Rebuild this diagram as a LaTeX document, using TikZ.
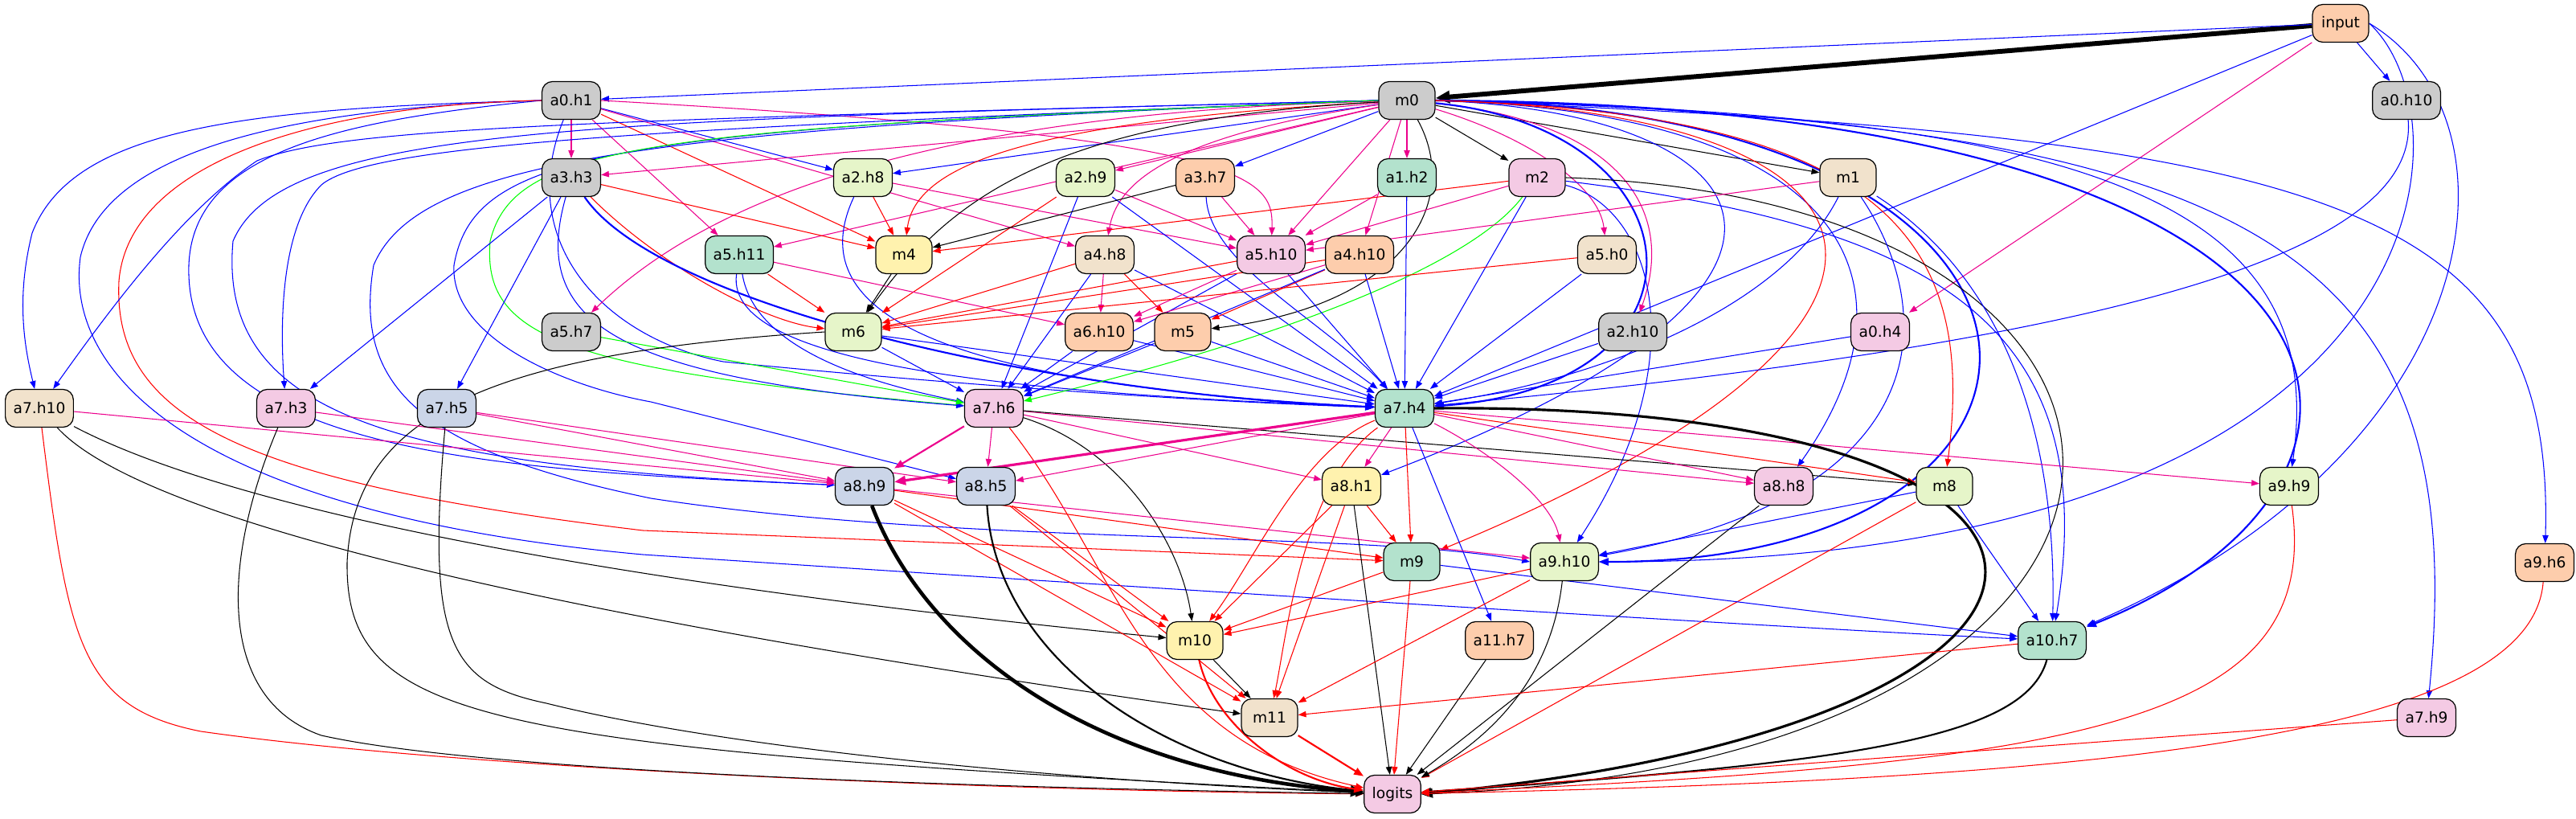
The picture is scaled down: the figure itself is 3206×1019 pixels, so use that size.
\documentclass[tikz,border=0pt]{standalone}
\usepackage{fontspec}
\setmainfont{DejaVu Sans}
\usepackage{tikz}
\usetikzlibrary{arrows.meta}
\definecolor{ngray}{HTML}{CCCCCC}
\definecolor{nmint}{HTML}{B3E2CD}
\definecolor{npeach}{HTML}{FDCDAC}
\definecolor{nblue}{HTML}{CBD5E8}
\definecolor{npink}{HTML}{F4CAE4}
\definecolor{nlime}{HTML}{E6F5C9}
\definecolor{nyellow}{HTML}{FFF2AE}
\definecolor{nbeige}{HTML}{F1E2CC}
\pgfdeclarelayer{edges}
\pgfsetlayers{edges,main}
\tikzset{
  nd/.style={draw, line width=0.35pt, rounded corners=0.13cm, minimum width=0.7cm, minimum height=0.47cm, inner xsep=0.1cm, inner ysep=0pt, font=\fontsize{5.3}{6.4}\selectfont},
  ed/.style={->, line width=0.3pt},
  eb/.style={ed, blue},
  er/.style={ed, red},
  em/.style={ed, magenta},
  eg/.style={ed, green},
  ek/.style={ed, black},
  w2/.style={line width=0.6pt, -{Triangle[length=3.4pt,width=2.6pt]}},
  w3/.style={line width=0.9pt, -{Triangle[length=4pt,width=3.2pt]}},
  w4/.style={line width=1.3pt, -{Triangle[length=4.6pt,width=3.8pt]}},
  w5/.style={line width=1.7pt, -{Triangle[length=5pt,width=4.2pt]}},
}
\begin{document}
\begin{tikzpicture}[x=0.01cm, y=-0.01cm, >={Triangle[length=2.8pt,width=2.1pt]}]
\useasboundingbox (0,0) rectangle (3206,1019);

\node(input)  [nd, fill=npeach]  at (2913,29)  {input};
\node(m0)     [nd, fill=ngray]   at (1751,125) {m0};
\node(a0h1)   [nd, fill=ngray]   at (711,125)  {a0.h1};
\node(a0h10)  [nd, fill=ngray]   at (2995,125) {a0.h10};

\node(a3h3)   [nd, fill=ngray]   at (711,221)  {a3.h3};
\node(a2h8)   [nd, fill=nlime]   at (1074,221) {a2.h8};
\node(a2h9)   [nd, fill=nlime]   at (1351,221) {a2.h9};
\node(a3h7)   [nd, fill=npeach]  at (1500,221) {a3.h7};
\node(a1h2)   [nd, fill=nmint]   at (1751,221) {a1.h2};
\node(m2)     [nd, fill=npink]   at (1913,221) {m2};
\node(m1)     [nd, fill=nbeige]  at (2300,221) {m1};

\node(a5h11)  [nd, fill=nmint]   at (920,317)  {a5.h11};
\node(m4)     [nd, fill=nyellow] at (1125,317) {m4};
\node(a4h8)   [nd, fill=nbeige]  at (1375,317) {a4.h8};
\node(a5h10)  [nd, fill=npink]   at (1582,317) {a5.h10};
\node(a4h10)  [nd, fill=npeach]  at (1692,317) {a4.h10};
\node(a5h0)   [nd, fill=nbeige]  at (2000,317) {a5.h0};

\node(a5h7)   [nd, fill=ngray]   at (711,413)  {a5.h7};
\node(m6)     [nd, fill=nlime]   at (1062,413) {m6};
\node(a6h10)  [nd, fill=npeach]  at (1368,413) {a6.h10};
\node(m5)     [nd, fill=npeach]  at (1472,413) {m5};
\node(a2h10)  [nd, fill=ngray]   at (2032,413) {a2.h10};
\node(a0h4)   [nd, fill=npink]   at (2340,413) {a0.h4};

\node(a7h10)  [nd, fill=nbeige]  at (49,508)   {a7.h10};
\node(a7h3)   [nd, fill=npink]   at (356,508)  {a7.h3};
\node(a7h5)   [nd, fill=nblue]   at (556,508)  {a7.h5};
\node(a7h6)   [nd, fill=npink]   at (1237,508) {a7.h6};
\node(a7h4)   [nd, fill=nmint]   at (1748,508) {a7.h4};

\node(a8h9)   [nd, fill=nblue]   at (1076,605) {a8.h9};
\node(a8h5)   [nd, fill=nblue]   at (1227,605) {a8.h5};
\node(a8h1)   [nd, fill=nyellow] at (1682,605) {a8.h1};
\node(a8h8)   [nd, fill=npink]   at (2220,605) {a8.h8};
\node(m8)     [nd, fill=nlime]   at (2420,605) {m8};
\node(a9h9)   [nd, fill=nlime]   at (2849,605) {a9.h9};

\node(m9)     [nd, fill=nmint]   at (1757,699) {m9};
\node(a9h10)  [nd, fill=nlime]   at (1947,699) {a9.h10};
\node(a9h6)   [nd, fill=npeach]  at (3167,700) {a9.h6};

\node(m10)    [nd, fill=nyellow] at (1487,797) {m10};
\node(a11h7)  [nd, fill=npeach]  at (1866,797) {a11.h7};
\node(a10h7)  [nd, fill=nmint]   at (2554,797) {a10.h7};

\node(m11)    [nd, fill=nbeige]  at (1580,893) {m11};
\node(a7h9)   [nd, fill=npink]   at (3020,893) {a7.h9};
\node(logits) [nd, fill=npink]   at (1733,988) {logits};

\begin{pgfonlayer}{edges}
% input
\draw[ek, w5] (input) -- (m0);
\draw[eb] (input) -- (a0h1);
\draw[eb] (input) -- (a0h10);
\draw[em] (input) -- (a0h4);
\draw[eb] (input) -- (a7h4);
\draw[eb] (input.east) .. controls (3080,150) and (3050,700) .. (a9h10.east);
\draw[eb] (input.east) .. controls (3150,150) and (3100,560) .. (a10h7);

% a0.h1
\draw[em] (a0h1) -- (a3h3);
\draw[eb] (a0h1) -- (a2h8);
\draw[em] (a0h1) -- (a5h11);
\draw[er] (a0h1) -- (m4);
\draw[em] (a0h1) -- (a4h8);
\draw[em] (a0h1.east) .. controls (1560,170) and (1585,220) .. (a5h10);
\draw[eb] (a0h1.west) .. controls (300,135) and (90,160) .. (40,290) .. controls (20,370) and (30,430) .. (a7h10);
\draw[eb] (a0h1.west) .. controls (420,150) and (240,190) .. (235,330) .. controls (228,560) and (600,585) .. (a8h9);
\draw[eb] (a0h1.west) .. controls (350,135) and (130,190) .. (100,320) .. controls (80,470) and (250,640) .. (800,690) .. controls (1400,730) and (2200,780) .. (a10h7);
\draw[er] (a0h1.west) .. controls (400,130) and (160,200) .. (148,350) .. controls (140,520) and (300,600) .. (800,660) -- (m9);
\draw[eb] (a0h1) .. controls (640,300) and (750,420) .. (900,450) .. controls (1200,480) and (1500,500) .. (a7h4);

% m0
\draw[em] (m0) -- (a3h3);
\draw[eb] (m0) -- (a2h8);
\draw[em] (m0) -- (a2h9);
\draw[eb] (m0) -- (a3h7);
\draw[em] (m0) -- (a1h2);
\draw[ek] (m0) -- (m2);
\draw[ek] (m0) -- (m1);
\draw[em] (m0) -- (a5h11);
\draw[er] (m0) .. controls (1300,150) and (1140,200) .. (m4);
\draw[em] (m0) .. controls (1450,170) and (1390,230) .. (a4h8);
\draw[em] (m0) -- (a5h10);
\draw[em] (m0) -- (a4h10);
\draw[em] (m0) .. controls (1900,170) and (1990,230) .. (a5h0);
\draw[em] (m0) .. controls (1200,140) and (900,230) .. (a5h7);
\draw[ek] (m0) .. controls (1300,150) and (1180,250) .. (m6);
\draw[ek] (m0) .. controls (1820,250) and (1750,380) .. (m5);
\draw[em] (m0) .. controls (2000,150) and (2090,250) .. (a2h10);
\draw[eb] (m0.west) .. controls (700,150) and (420,160) .. (320,200) .. controls (230,260) and (140,380) .. (a7h10);
\draw[eb] (m0.west) .. controls (800,160) and (460,180) .. (400,230) .. controls (350,280) and (348,400) .. (a7h3);
\draw[eb] (m0.west) .. controls (700,150) and (350,160) .. (290,300) .. controls (270,520) and (500,580) .. (a8h9);
\draw[eb] (m0.west) .. controls (800,160) and (520,200) .. (465,330) .. controls (440,480) and (520,560) .. (810,620) .. controls (1200,680) and (1700,660) .. (a9h10.west);
\draw[eb] (m0.west) .. controls (750,160) and (590,190) .. (565,330) .. controls (560,420) and (700,480) .. (810,500) -- (a8h5);
\draw[eg] (m0.west) .. controls (800,160) and (640,180) .. (610,300) .. controls (600,420) and (700,460) .. (a7h6);
\draw[eb, w2] (m0) .. controls (2120,160) and (2150,480) .. (a7h4);
\draw[eb, w2] (m0.east) .. controls (2650,130) and (2650,700) .. (a9h10.east);
\draw[eb, w2] (m0.east) .. controls (3000,130) and (3050,600) .. (a10h7);
\draw[eb] (m0.east) .. controls (2600,140) and (2900,250) .. (a9h9);
\draw[eb] (m0.east) .. controls (2800,150) and (3080,300) .. (a7h9);
\draw[eb] (m0.east) .. controls (2900,170) and (3180,250) .. (a9h6);
\draw[eb] (m0.east) .. controls (2300,140) and (2400,350) .. (a8h8);
\draw[eb] (m0.east) .. controls (2200,140) and (2350,350) .. (a8h1);
\draw[er] (m0.east) .. controls (2350,140) and (2460,300) .. (m8);
\draw[er] (m0.east) .. controls (2380,140) and (2480,400) .. (m9);

% second row
\draw[eb] (a0h10) .. controls (3010,300) and (2700,420) .. (a7h4);
\draw[er] (a3h3) -- (m4);
\draw[er] (a3h3) .. controls (820,330) and (950,400) .. (m6);
\draw[eb] (a3h3) -- (a7h3);
\draw[eb] (a3h3) -- (a7h5);
\draw[eb, w2] (a3h3) .. controls (820,380) and (1300,490) .. (a7h4);
\draw[eb] (a3h3) .. controls (660,400) and (760,470) .. (a7h6);
\draw[er] (a2h8) -- (m4);
\draw[em] (a2h8) -- (a5h10);
\draw[eb] (a2h8) .. controls (990,400) and (1200,480) .. (a7h4);
\draw[em] (a2h9) -- (a5h10);
\draw[er] (a2h9) -- (m6);
\draw[eb] (a2h9) -- (a7h6);
\draw[eb] (a2h9) -- (a7h4);
\draw[ek] (a3h7) -- (m4);
\draw[em] (a3h7) -- (a5h10);
\draw[eb] (a3h7) .. controls (1505,330) and (1650,400) .. (a7h4);
\draw[em] (a1h2) -- (a5h10);
\draw[eb] (a1h2) -- (a7h4);
\draw[er] (m2) -- (m4);
\draw[em] (m2) -- (a5h10);
\draw[eg] (m2) .. controls (1830,330) and (1600,420) .. (a7h6);
\draw[eb] (m2) -- (a7h4);
\draw[eb] (m2) .. controls (2060,260) and (2110,450) .. (a9h10);
\draw[eb] (m2) .. controls (2400,280) and (2620,400) .. (a10h7);
\draw[ek] (m2.east) .. controls (2800,250) and (2800,950) .. (logits.east);
\draw[em] (m1) -- (a5h10);
\draw[eb] (m1) .. controls (2220,380) and (2000,470) .. (a7h4);
\draw[eb] (m1) .. controls (2420,400) and (2400,620) .. (a9h10);
\draw[eb] (m1) .. controls (2500,350) and (2560,550) .. (a10h7);

% third and fourth rows
\draw[er] (a5h11) -- (m6);
\draw[em] (a5h11) -- (a6h10);
\draw[eb] (a5h11) .. controls (940,440) and (1100,480) .. (a7h6);
\draw[eb] (a5h11) .. controls (900,460) and (1300,490) .. (a7h4);
\draw[ek] (m4) -- (m6);
\draw[er] (a4h8) -- (m6);
\draw[em] (a4h8) -- (a6h10);
\draw[er] (a4h8) -- (m5);
\draw[eb] (a4h8) -- (a7h6);
\draw[eb] (a4h8) -- (a7h4);
\draw[er] (a5h10) -- (m6);
\draw[em] (a5h10) -- (a6h10);
\draw[eb] (a5h10) -- (a7h6);
\draw[eb] (a5h10) -- (a7h4);
\draw[er] (a4h10) -- (m6);
\draw[em] (a4h10) -- (a6h10);
\draw[er] (a4h10) -- (m5);
\draw[eb] (a4h10) -- (a7h6);
\draw[eb] (a4h10) -- (a7h4);
\draw[er] (a5h0) -- (m6);
\draw[eb] (a5h0) -- (a7h4);
\draw[eg] (a5h7) -- (a7h6);
\draw[eb] (m6) -- (a7h6);
\draw[eb] (m6) -- (a7h4);
\draw[ek] (m6.west) .. controls (600,440) and (440,520) .. (432,700) .. controls (430,900) and (600,930) .. (logits);
\draw[eb] (a6h10) -- (a7h6);
\draw[eb] (a6h10) -- (a7h4);
\draw[eb] (m5) -- (a7h6);
\draw[eb] (m5) -- (a7h4);
\draw[eb] (a2h10) -- (a7h4);
\draw[eb] (a0h4) -- (a7h4);

% a7 row
\draw[em] (a7h10) -- (a8h9);
\draw[ek] (a7h10) .. controls (300,640) and (800,730) .. (m10);
\draw[ek] (a7h10) .. controls (180,650) and (700,770) .. (m11);
\draw[er] (a7h10) .. controls (85,800) and (100,880) .. (250,910) .. controls (600,960) and (1300,985) .. (logits);
\draw[em] (a7h3) -- (a8h9);
\draw[ek] (a7h3) .. controls (275,700) and (270,870) .. (400,915) .. controls (600,960) and (1200,980) .. (logits);
\draw[em] (a7h5) -- (a8h9);
\draw[em] (a7h5) -- (a8h5);
\draw[ek] (a7h5) .. controls (530,800) and (560,850) .. (680,875) .. controls (900,930) and (1300,970) .. (logits);
\draw[em, w2] (a7h6) -- (a8h9);
\draw[em] (a7h6) -- (a8h5);
\draw[em] (a7h6) -- (a8h1);
\draw[em] (a7h6) -- (a8h8);
\draw[ek] (a7h6) -- (m8);
\draw[ek] (a7h6) .. controls (1400,560) and (1470,680) .. (m10);
\draw[er] (a7h6) .. controls (1390,700) and (1420,920) .. (logits);
\draw[em, w3] (a7h4) -- (a8h9);
\draw[em] (a7h4) -- (a8h5);
\draw[em] (a7h4) -- (a8h1);
\draw[em] (a7h4) -- (a8h8);
\draw[er] (a7h4) -- (m8);
\draw[em] (a7h4) -- (a9h9);
\draw[er] (a7h4) -- (m9);
\draw[em] (a7h4) .. controls (1850,560) and (1930,620) .. (a9h10);
\draw[er] (a7h4) .. controls (1620,560) and (1560,700) .. (m10);
\draw[er] (a7h4) .. controls (1620,600) and (1600,800) .. (m11);
\draw[eb] (a7h4) -- (a11h7);
\draw[ek, w3] (a7h4.east) .. controls (2700,500) and (2700,900) .. (logits.east);

% lower rows
\draw[er] (a8h9) -- (m9);
\draw[em] (a8h9) -- (a9h10);
\draw[er] (a8h9) -- (m10);
\draw[er] (a8h9) -- (m11);
\draw[ek, w4] (a8h9) .. controls (1150,800) and (1350,960) .. (logits);
\draw[er] (a8h5) -- (m10);
\draw[er] (a8h5) -- (m11);
\draw[ek, w2] (a8h5) .. controls (1240,820) and (1450,960) .. (logits);
\draw[er] (a8h1) -- (m9);
\draw[er] (a8h1) -- (m10);
\draw[er] (a8h1) -- (m11);
\draw[ek] (a8h1) -- (logits);
\draw[ek] (a8h8) -- (logits);
\draw[eb] (m8) -- (a9h10);
\draw[eb] (m8) -- (a10h7);
\draw[er] (m8) -- (logits);
\draw[er] (a9h9) .. controls (2890,900) and (2600,950) .. (logits);
\draw[eb] (m9) -- (a10h7);
\draw[er] (m9) -- (m10);
\draw[er] (m9) -- (logits);
\draw[er] (a9h10) -- (m10);
\draw[er] (a9h10) -- (m11);
\draw[ek] (a9h10) .. controls (1930,850) and (1850,920) .. (logits);
\draw[ek] (m10) -- (m11);
\draw[er, w2] (m10) .. controls (1510,900) and (1600,970) .. (logits);
\draw[ek] (a11h7) -- (logits);
\draw[er] (a10h7) -- (m11);
\draw[ek, w2] (a10h7) .. controls (2520,920) and (2300,950) .. (logits);
\draw[er, w2] (m11) -- (logits);
\draw[er] (a7h9) -- (logits);
\draw[er] (a9h6) .. controls (3150,920) and (2600,970) .. (logits);
\end{pgfonlayer}
\end{tikzpicture}
\end{document}
